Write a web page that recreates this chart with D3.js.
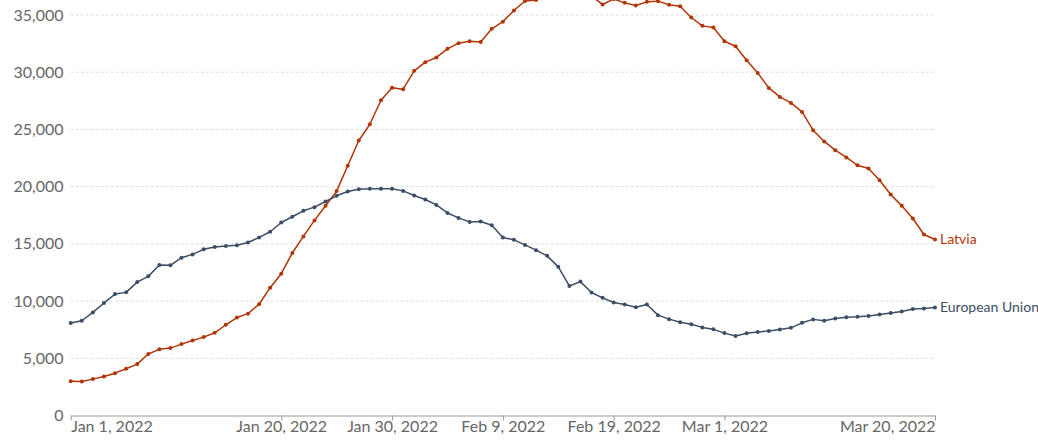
<!DOCTYPE html>
<html>
<head>
<meta charset="utf-8">
<script src="https://cdn.jsdelivr.net/npm/d3@7"></script>
<style>
  html, body { margin: 0; padding: 0; background: #fff; }
  svg { display: block; font-family: Lato, "Noto Sans", sans-serif; }
</style>
</head>
<body>
<svg id="chart" width="1038" height="442"></svg>
<script>
// ---- data ----
const startDate = "2022-01-01";
const tickDates = ["2022-01-01", "2022-01-20", "2022-01-30", "2022-02-09", "2022-02-19", "2022-03-01", "2022-03-20"];
const yTicks = [0, 5000, 10000, 15000, 20000, 25000, 30000, 35000];
const seriesNames = ["Latvia", "European Union"];
const latvia = [3000, 2980, 3180, 3410, 3700, 4080, 4490, 5370, 5780, 5890,
  6240, 6560, 6850, 7230, 7930, 8560, 8900, 9720, 11170, 12390,
  14200, 15650, 17050, 18330, 19610, 21820, 24030, 25450, 27550, 28650,
  28520, 30120, 30880, 31290, 32040, 32540, 32710, 32650, 33790, 34420,
  35390, 36220, 36320, 36700, 37100, 37300, 37200, 36650, 35920, 36400,
  36060, 35830, 36150, 36210, 35900, 35770, 34780, 34050, 33910, 32710,
  32270, 31050, 29940, 28630, 27840, 27320, 26530, 24930, 23950, 23190,
  22550, 21870, 21590, 20560, 19310, 18320, 17220, 15820, 15380];
const eu = [8080, 8280, 9010, 9830, 10610, 10760, 11660, 12160, 13150, 13120,
  13790, 14080, 14520, 14720, 14810, 14880, 15120, 15560, 16060, 16870,
  17370, 17890, 18210, 18700, 19200, 19580, 19780, 19810, 19810, 19810,
  19630, 19230, 18880, 18400, 17700, 17270, 16920, 16950, 16630, 15560,
  15350, 14910, 14450, 13950, 12990, 11320, 11700, 10750, 10280, 9880,
  9700, 9460, 9700, 8770, 8420, 8150, 7980, 7700, 7530, 7200,
  6950, 7180, 7300, 7390, 7520, 7660, 8100, 8400, 8280, 8480,
  8590, 8620, 8700, 8820, 8960, 9080, 9310, 9350, 9440];

const colors = { "Latvia": "#b13507", "European Union": "#3c4e66" };

// ---- setup ----
const parse = d3.timeParse("%Y-%m-%d");
const d0 = parse(startDate);
const dates = latvia.map((_, i) => d3.timeDay.offset(d0, i));
const series = [
  { name: seriesNames[0], values: latvia },
  { name: seriesNames[1], values: eu }
];

const svg = d3.select("#chart");
const x = d3.scaleTime().domain([dates[0], dates[dates.length - 1]]).range([70.7, 935]);
const y = d3.scaleLinear().domain([0, 35000]).range([415.5, 15]);

// gridlines
svg.append("g").selectAll("line").data(yTicks.filter(v => v > 0)).join("line")
  .attr("x1", 70.7).attr("x2", 935)
  .attr("y1", d => y(d)).attr("y2", d => y(d))
  .attr("stroke", "#dddddd").attr("stroke-width", 1)
  .attr("stroke-dasharray", "3,2");

// y labels
svg.append("g").selectAll("text").data(yTicks).join("text")
  .attr("x", 63.5).attr("y", d => y(d))
  .attr("dy", "0.35em")
  .attr("text-anchor", "end")
  .attr("font-size", 16).attr("fill", "#666")
  .text(d => d3.format(",")(d));

// x axis
const xAxis = d3.axisBottom(x)
  .tickValues(tickDates.map(parse))
  .tickSize(5).tickSizeOuter(0)
  .tickFormat(d3.timeFormat("%b %-d, %Y"));
const gx = svg.append("g").attr("transform", `translate(0,${y(0)})`).call(xAxis);
gx.select(".domain").attr("stroke", "#999");
gx.selectAll(".tick line").attr("stroke", "#999");
gx.selectAll(".tick text")
  .attr("font-family", "Lato, 'Noto Sans', sans-serif")
  .attr("font-size", 16).attr("fill", "#666").attr("dy", "0.6em")
  .attr("y", 7)
  .attr("text-anchor", (d, i, n) => i === 0 ? "start" : (i === n.length - 1 ? "end" : "middle"));

// lines
const line = d3.line().x((d, i) => x(dates[i])).y(d => y(d));
const g = svg.append("g");
series.forEach(s => {
  g.append("path").datum(s.values)
    .attr("d", line)
    .attr("fill", "none")
    .attr("stroke", colors[s.name])
    .attr("stroke-width", 1.5)
    .attr("stroke-linejoin", "round");
  g.append("g").selectAll("circle").data(s.values).join("circle")
    .attr("cx", (d, i) => x(dates[i]))
    .attr("cy", d => y(d))
    .attr("r", 2)
    .attr("fill", colors[s.name]);
  const last = s.values[s.values.length - 1];
  g.append("text")
    .attr("x", x(dates[dates.length - 1]) + 5)
    .attr("y", y(last))
    .attr("dy", "0.35em")
    .attr("font-size", 14)
    .attr("fill", colors[s.name])
    .text(s.name);
});
</script>
</body>
</html>
